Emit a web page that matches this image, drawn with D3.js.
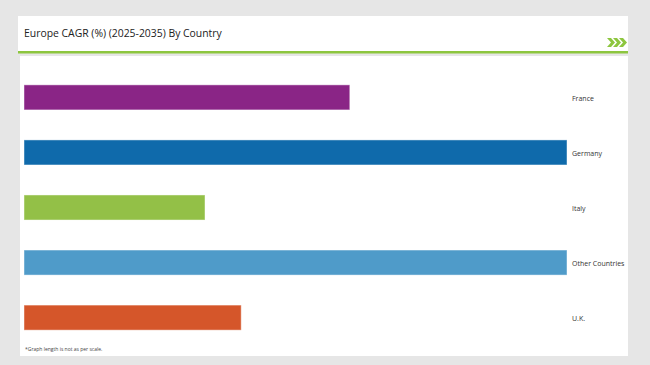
<!DOCTYPE html>
<html lang='en'>
  <head>
    <meta charset='utf-8'>
    <title>Europe CAGR by Country</title>
    <style>
      html, body { margin: 0; padding: 0; background: #e6e6e6; }
      body { font-family: "Open Sans", "DejaVu Sans", sans-serif; }
      svg { display: block; }
    </style>
  </head>
  <body>
    <div id="container"></div>
    <script src='https://cdnjs.cloudflare.com/ajax/libs/d3/7.8.5/d3.min.js'></script>
    <script>
      // data (lengths are "not as per scale")
      var countries = ["France", "Germany", "Italy", "Other Countries", "U.K."];
      var cagr = [3.6, 6.0, 2.0, 6.0, 2.4];
      var barColors = ["#8a2586", "#0f6aab", "#93c047", "#4f9bc9", "#d5562a"];

      var w = 650, h = 365;

      var svg = d3.select("#container").append("svg")
        .attr("width", w)
        .attr("height", h);

      svg.append("rect")
        .attr("width", w).attr("height", h)
        .attr("fill", "#e6e6e6");

      // header panel
      svg.append("rect")
        .attr("x", 18).attr("y", 16)
        .attr("width", 610).attr("height", 36)
        .attr("fill", "#ffffff");

      svg.append("text")
        .attr("x", 24).attr("y", 37)
        .attr("font-size", "10.4px")
        .attr("fill", "#222")
        .text("Europe CAGR (%) (2025-2035) By Country");

      svg.append("rect")
        .attr("x", 18).attr("y", 51)
        .attr("width", 610).attr("height", 2.5)
        .attr("fill", "#8dc63f");

      // the little green chevrons
      var chev = svg.append("g").attr("fill", "#8dc63f");
      [607, 613, 619].forEach(function(cx) {
        chev.append("path")
          .attr("d", "M" + cx + ",38 L" + (cx + 4) + ",38 L" + (cx + 8) + ",42.5 L" + (cx + 4) + ",47 L" + cx + ",47 L" + (cx + 4) + ",42.5 Z");
      });

      // main panel
      svg.append("rect")
        .attr("x", 20).attr("y", 56)
        .attr("width", 608).attr("height", 300)
        .attr("fill", "#ffffff");

      var xScale = d3.scaleLinear()
        .domain([0, d3.max(cagr)])
        .range([24, 567]);

      var yScale = d3.scaleBand()
        .domain(countries)
        .range([70, 345])
        .paddingInner(0.545)
        .paddingOuter(0.27);

      var rows = countries.map(function(c, i) { return { name: c, value: cagr[i], color: barColors[i] }; });

      svg.selectAll("rect.bar")
        .data(rows)
        .enter()
        .append("rect")
        .attr("class", "bar")
        .attr("x", xScale(0))
        .attr("y", function(d) { return yScale(d.name); })
        .attr("width", function(d) { return xScale(d.value) - xScale(0); })
        .attr("height", yScale.bandwidth())
        .attr("fill", function(d) { return d.color; })
        .attr("stroke", "rgba(255,255,255,0.45)")
        .attr("stroke-width", 1);

      svg.selectAll("text.label")
        .data(rows)
        .enter()
        .append("text")
        .attr("class", "label")
        .attr("x", 572)
        .attr("y", function(d) { return yScale(d.name) + yScale.bandwidth() / 2 + 1; })
        .attr("dy", "0.35em")
        .attr("font-size", "7px")
        .attr("fill", "#333")
        .text(function(d) { return d.name; });

      svg.append("text")
        .attr("x", 25).attr("y", 351)
        .attr("font-size", "5px")
        .attr("fill", "#444")
        .text("*Graph length is not as per scale.");
    </script>
  </body>
</html>
